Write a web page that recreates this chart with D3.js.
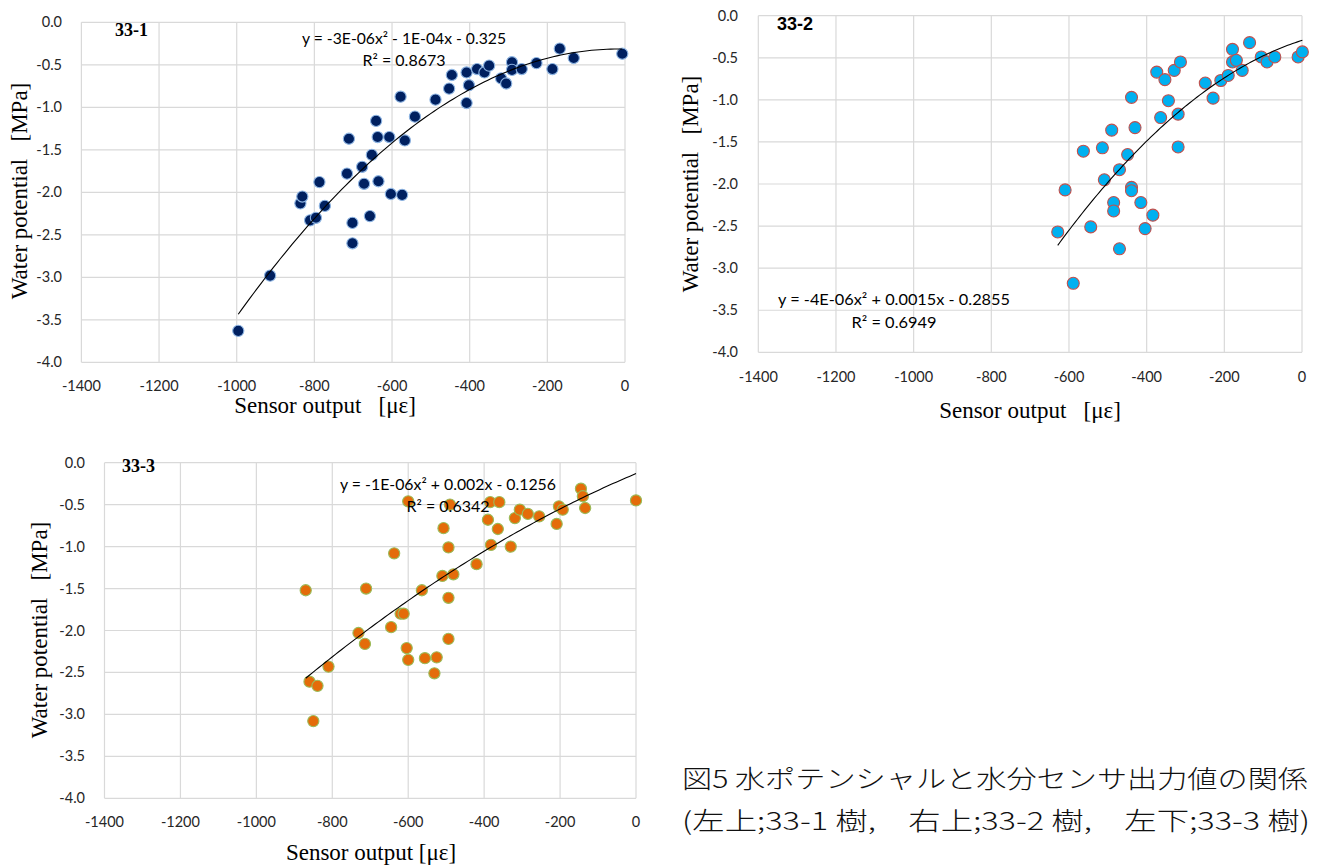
<!DOCTYPE html>
<html>
<head>
<meta charset="utf-8">
<script src="https://cdn.jsdelivr.net/npm/d3@7"></script>
<style>
  html, body { margin: 0; padding: 0; background: #fff; }
  svg { display: block; }
</style>
</head>
<body>
<svg id="chart" width="1317" height="865"></svg>
<script>
// ---------------- DATA ----------------
const xTickValues = [-1400, -1200, -1000, -800, -600, -400, -200, 0];
const yTickValues = [0, -0.5, -1.0, -1.5, -2.0, -2.5, -3.0, -3.5, -4.0];

// Tree 33-1
const t1x = [-996, -914, -836, -831, -811, -796, -787, -773, -711, -716, -702, -702, -677, -672, -652, -657,
             -641, -637, -635, -607, -603, -578, -567, -574, -541, -488, -453, -446, -408, -402, -408, -381,
             -362, -350, -319, -306, -291, -291, -266, -228, -187, -168, -132, -7];
const t1y = [-3.63, -2.98, -2.13, -2.05, -2.33, -2.30, -1.88, -2.16, -1.37, -1.78, -2.36, -2.60, -1.70, -1.90, -1.56, -2.28,
             -1.16, -1.35, -1.87, -1.35, -2.02, -0.875, -1.39, -2.03, -1.11, -0.91, -0.78, -0.62, -0.59, -0.74, -0.95, -0.55,
             -0.59, -0.51, -0.66, -0.72, -0.47, -0.56, -0.55, -0.48, -0.55, -0.31, -0.42, -0.37];

// Tree 33-2
const t2x = [-629, -610, -589, -563, -544, -514, -509, -490, -485, -485, -470, -470, -449, -439, -439, -439,
             -430, -415, -404, -384, -374, -364, -353, -344, -329, -319, -319, -313, -249, -229, -209, -190,
             -179, -179, -169, -154, -135, -105, -90, -70, -10, 1];
const t2y = [-2.57, -2.07, -3.18, -1.61, -2.51, -1.57, -1.95, -1.36, -2.22, -2.32, -1.83, -2.77, -1.65, -0.97, -2.04, -2.08,
             -1.33, -2.22, -2.53, -2.37, -0.67, -1.21, -0.76, -1.01, -0.65, -1.17, -1.56, -0.55, -0.80, -0.98, -0.77, -0.71,
             -0.40, -0.55, -0.53, -0.65, -0.32, -0.49, -0.55, -0.49, -0.49, -0.43];

// Tree 33-3
const t3x = [-870, -860, -839, -850, -810, -731, -714, -711, -645, -637, -620, -612, -604, -600, -600, -564,
             -556, -525, -531, -510, -507, -494, -494, -494, -490, -481, -420, -390, -384, -382, -364, -360,
             -330, -319, -306, -285, -255, -209, -203, -193, -145, -140, -134, 0];
const t3y = [-1.52, -2.61, -2.66, -3.08, -2.43, -2.03, -2.16, -1.50, -1.96, -1.08, -1.80, -1.80, -2.21, -0.46, -2.35, -1.52,
             -2.33, -2.32, -2.51, -1.35, -0.78, -1.01, -1.61, -2.10, -0.50, -1.33, -1.21, -0.68, -0.47, -0.98, -0.79, -0.47,
             -1.00, -0.66, -0.56, -0.61, -0.64, -0.73, -0.52, -0.56, -0.31, -0.40, -0.54, -0.45];

const panelNames = ["33-1", "33-2", "33-3"];
const equationTexts = ["y = -3E-06x\u00B2 - 1E-04x - 0.325", "y = -4E-06x\u00B2 + 0.0015x - 0.2855", "y = -1E-06x\u00B2 + 0.002x - 0.1256"];
const r2Texts = ["R\u00B2 = 0.8673", "R\u00B2 = 0.6949", "R\u00B2 = 0.6342"];
const yTitle = "Water potential\u00A0\u00A0 [MPa]";
const xTitles = ["Sensor output\u00A0\u00A0 [\u03BC\u03B5]", "Sensor output\u00A0\u00A0 [\u03BC\u03B5]", "Sensor output [\u03BC\u03B5]"];
const captionLines = ["図5 水ポテンシャルと水分センサ出力値の関係", "(左上;33-1 樹,\u3000右上;33-2 樹,\u3000左下;33-3 樹)"];

// ---------------- LAYOUT ----------------
const panels = [
  { xs: t1x, ys: t1y, L: 81.4, R: 625, T: 22.3, B: 362.3, fill: "#002060", stroke: "#8db4e2", r: 5.6,
    labelFont: "Liberation Serif", label: [115, 36], eq: [404, 44, 204], r2: [404, 66, 83],
    yTitle: [19, 191], xTitle: [325, 413], xTickY: 391, yTickX: 62 },
  { xs: t2x, ys: t2y, L: 758.3, R: 1302, T: 15.7, B: 352.3, fill: "#00b0f0", stroke: "#c0504d", r: 6,
    labelFont: "Liberation Sans", label: [777, 30], eq: [894, 305, 232], r2: [894, 328, 85],
    yTitle: [690, 184], xTitle: [1030, 418], xTickY: 382, yTickX: 738 },
  { xs: t3x, ys: t3y, L: 104.5, R: 636, T: 462.7, B: 798.3, fill: "#e46c0a", stroke: "#9bbb59", r: 5.6,
    labelFont: "Liberation Serif", label: [122, 472], eq: [448, 490, 216], r2: [448, 512, 83],
    yTitle: [39, 630], xTitle: [371, 860], xTickY: 827, yTickX: 85 }
];

// quadratic least squares (Excel polynomial trendline)
function quadFit(xs, ys) {
  let S = [0,0,0,0,0], T = [0,0,0];
  for (let i = 0; i < xs.length; i++) {
    const x = xs[i], y = ys[i];
    let p = 1;
    for (let k = 0; k < 5; k++) { S[k] += p; p *= x; }
    T[0] += y; T[1] += y * x; T[2] += y * x * x;
  }
  const M = [[S[0], S[1], S[2], T[0]], [S[1], S[2], S[3], T[1]], [S[2], S[3], S[4], T[2]]];
  for (let c = 0; c < 3; c++) {
    for (let r = c + 1; r < 3; r++) {
      const f = M[r][c] / M[c][c];
      for (let k = c; k < 4; k++) M[r][k] -= f * M[c][k];
    }
  }
  const sol = [0,0,0];
  for (let r = 2; r >= 0; r--) {
    let s = M[r][3];
    for (let k = r + 1; k < 3; k++) s -= M[r][k] * sol[k];
    sol[r] = s / M[r][r];
  }
  return sol; // c0, c1, c2
}

const locale = d3.formatLocale({ decimal: ".", thousands: "", grouping: [3], currency: ["", ""], minus: "-" });
const fmtX = locale.format("d");
const fmtY = locale.format(".1f");

const svg = d3.select("#chart");
const tickFont = "Lato, 'Open Sans', sans-serif";
const gridColor = "#d9d9d9";

panels.forEach((p, i) => {
  const x = d3.scaleLinear().domain([-1400, 0]).range([p.L, p.R]);
  const y = d3.scaleLinear().domain([-4, 0]).range([p.B, p.T]);
  const g = svg.append("g");

  // gridlines
  g.selectAll(".vg").data(xTickValues).enter().append("line")
    .attr("x1", d => x(d)).attr("x2", d => x(d)).attr("y1", p.T).attr("y2", p.B)
    .attr("stroke", gridColor).attr("stroke-width", 1.2);
  g.selectAll(".hg").data(yTickValues).enter().append("line")
    .attr("y1", d => y(d)).attr("y2", d => y(d)).attr("x1", p.L).attr("x2", p.R)
    .attr("stroke", gridColor).attr("stroke-width", 1.2);

  // tick labels
  g.selectAll(".xt").data(xTickValues).enter().append("text")
    .attr("x", d => x(d)).attr("y", p.xTickY)
    .attr("text-anchor", "middle").attr("font-family", tickFont).attr("font-size", 14.5).attr("fill", "#262626")
    .text(d => fmtX(d));
  g.selectAll(".yt").data(yTickValues).enter().append("text")
    .attr("x", p.yTickX).attr("y", d => y(d) + 5)
    .attr("text-anchor", "end").attr("font-family", tickFont).attr("font-size", 14.5).attr("fill", "#262626")
    .text(d => fmtY(d === 0 ? 0 : d));

  // points
  const pts = p.xs.map((v, k) => [v, p.ys[k]]);
  g.selectAll(".pt").data(pts).enter().append("circle")
    .attr("cx", d => x(d[0])).attr("cy", d => y(d[1])).attr("r", p.r)
    .attr("fill", p.fill).attr("stroke", p.stroke).attr("stroke-width", 1.1);

  // trendline
  const [c0, c1, c2] = quadFit(p.xs, p.ys);
  const xmin = d3.min(p.xs), xmax = d3.max(p.xs);
  const samples = d3.range(0, 101).map(k => xmin + (xmax - xmin) * k / 100);
  g.append("path")
    .datum(samples)
    .attr("fill", "none").attr("stroke", "#000").attr("stroke-width", 1.1)
    .attr("d", d3.line().x(d => x(d)).y(d => y(c0 + c1 * d + c2 * d * d)));

  // equation labels
  g.append("text").attr("x", p.eq[0]).attr("y", p.eq[1]).attr("text-anchor", "middle")
    .attr("font-family", tickFont).attr("font-size", 15).attr("fill", "#000")
    .attr("textLength", p.eq[2]).attr("lengthAdjust", "spacingAndGlyphs")
    .text(equationTexts[i]);
  g.append("text").attr("x", p.r2[0]).attr("y", p.r2[1]).attr("text-anchor", "middle")
    .attr("font-family", tickFont).attr("font-size", 15).attr("fill", "#000")
    .attr("textLength", p.r2[2]).attr("lengthAdjust", "spacingAndGlyphs")
    .text(r2Texts[i]);

  // panel name
  g.append("text").attr("x", p.label[0]).attr("y", p.label[1])
    .attr("font-family", p.labelFont).attr("font-weight", "bold").attr("font-size", 18).attr("fill", "#000")
    .text(panelNames[i]);

  // axis titles
  g.append("text")
    .attr("transform", `translate(${p.yTitle[0]},${p.yTitle[1]}) rotate(-90)`)
    .attr("text-anchor", "middle").attr("dy", "0.35em")
    .attr("font-family", "'Liberation Serif', serif").attr("font-size", 23).attr("fill", "#000")
    .text(yTitle);
  g.append("text").attr("x", p.xTitle[0]).attr("y", p.xTitle[1])
    .attr("text-anchor", "middle")
    .attr("font-family", "'Liberation Serif', serif").attr("font-size", 23).attr("fill", "#000")
    .text(xTitles[i]);
});

// caption
svg.append("text").attr("x", 682).attr("y", 788)
  .attr("font-family", "'Noto Sans CJK JP', sans-serif").attr("font-size", 25).attr("font-weight", 300)
  .attr("fill", "#111").attr("textLength", 626).attr("lengthAdjust", "spacingAndGlyphs")
  .text(captionLines[0]);
svg.append("text").attr("x", 682).attr("y", 830)
  .attr("font-family", "'Noto Sans CJK JP', sans-serif").attr("font-size", 25).attr("font-weight", 300)
  .attr("fill", "#111").attr("textLength", 628).attr("lengthAdjust", "spacingAndGlyphs")
  .text(captionLines[1]);
</script>
</body>
</html>
